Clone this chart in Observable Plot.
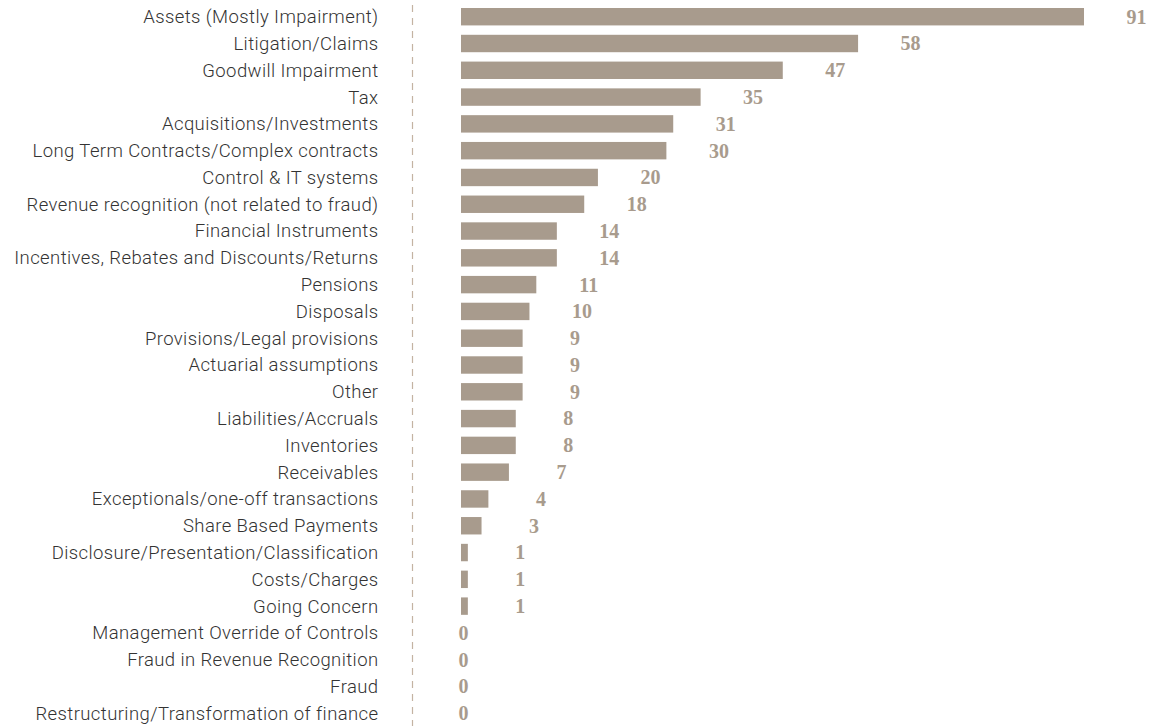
<!DOCTYPE html>
<html>
<head>
<meta charset="utf-8">
<script src="https://cdn.jsdelivr.net/npm/d3@7"></script>
<script src="https://cdn.jsdelivr.net/npm/@observablehq/plot@0.6"></script>
<style>
  html, body { margin: 0; padding: 0; background: #ffffff; }
  #chart { width: 1154px; height: 726px; }
  #chart svg g[aria-label="y-axis tick label"] text { letter-spacing: 0.4px; }
</style>
</head>
<body>
<div id="chart"></div>
<script>
const categories = [
  "Assets (Mostly Impairment)",
  "Litigation/Claims",
  "Goodwill Impairment",
  "Tax",
  "Acquisitions/Investments",
  "Long Term Contracts/Complex contracts",
  "Control & IT systems",
  "Revenue recognition (not related to fraud)",
  "Financial Instruments",
  "Incentives, Rebates and Discounts/Returns",
  "Pensions",
  "Disposals",
  "Provisions/Legal provisions",
  "Actuarial assumptions",
  "Other",
  "Liabilities/Accruals",
  "Inventories",
  "Receivables",
  "Exceptionals/one-off transactions",
  "Share Based Payments",
  "Disclosure/Presentation/Classification",
  "Costs/Charges",
  "Going Concern",
  "Management Override of Controls",
  "Fraud in Revenue Recognition",
  "Fraud",
  "Restructuring/Transformation of finance"
];
const values = [91, 58, 47, 35, 31, 30, 20, 18, 14, 14, 11, 10, 9, 9, 9, 8, 8, 7, 4, 3, 1, 1, 1, 0, 0, 0, 0];

const data = categories.map((c, i) => ({category: c, value: values[i]}));

const barColor = "#a89b8d";
const labelFont = "'Liberation Serif', 'DejaVu Serif', serif";

const chart = Plot.plot({
  width: 1154,
  height: 726,
  marginLeft: 461,
  marginRight: 70,
  marginTop: 8,
  marginBottom: 4,
  style: {fontFamily: "Roboto, 'Noto Sans', sans-serif", background: "#ffffff"},
  x: {domain: [0, 91], axis: null},
  y: {domain: categories, paddingInner: 0.35, paddingOuter: 0, round: false, label: null},
  marks: [
    Plot.ruleX([0], {dx: -49, stroke: "#c4b3a2", strokeWidth: 1.2, strokeDasharray: "7,6", insetTop: -3, insetBottom: -4}),
    Plot.barX(data, {x: "value", y: "category", fill: barColor}),
    Plot.text(data.filter(d => d.value > 0), {
      x: "value", y: "category", text: d => String(d.value),
      dx: 52, textAnchor: "middle", fill: barColor,
      fontFamily: labelFont, fontWeight: "bold", fontSize: 20
    }),
    Plot.text(data.filter(d => d.value === 0), {
      x: "value", y: "category", text: d => String(d.value),
      dx: 2, textAnchor: "middle", fill: barColor,
      fontFamily: labelFont, fontWeight: "bold", fontSize: 20
    }),
    Plot.axisY({tickSize: 0, tickPadding: 83, label: null, fontSize: 18.5, fontWeight: 300, fill: "#333333"})
  ]
});
document.getElementById("chart").appendChild(chart);
</script>
</body>
</html>
